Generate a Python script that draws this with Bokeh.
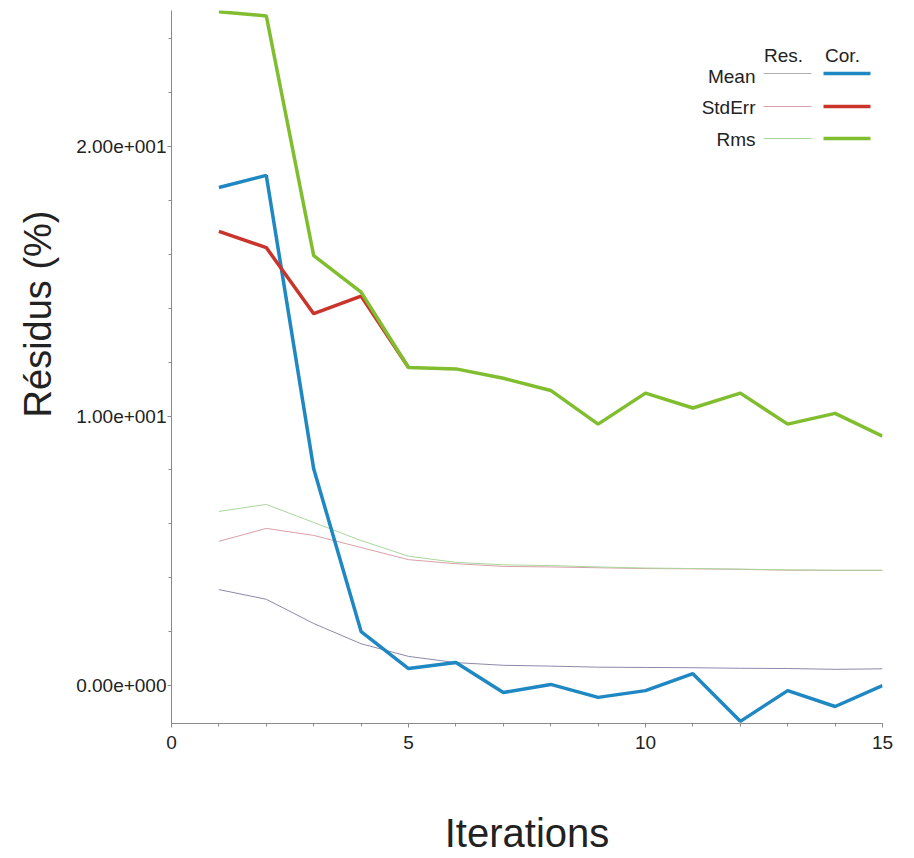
from bokeh.plotting import figure
from bokeh.models import Range1d, FixedTicker, Label, BoxAnnotation, Title
from bokeh.embed import file_html
from bokeh.resources import INLINE

# ---- data ----
iterations = list(range(1, 16))
mean_res = [3.56, 3.2, 2.3, 1.55, 1.08, 0.85, 0.75, 0.72, 0.68, 0.67, 0.66, 0.64, 0.63, 0.6, 0.62]
stderr_res = [5.35, 5.83, 5.57, 5.12, 4.67, 4.52, 4.42, 4.4, 4.37, 4.34, 4.33, 4.31, 4.28, 4.27, 4.27]
rms_res = [6.46, 6.72, 6.05, 5.38, 4.8, 4.57, 4.48, 4.45, 4.4, 4.36, 4.34, 4.32, 4.29, 4.28, 4.28]
mean_cor = [18.48, 18.93, 8.04, 2.0, 0.63, 0.85, -0.26, 0.04, -0.44, -0.19, 0.44, -1.33, -0.19, -0.78, 0.0]
stderr_cor_x = [1, 2, 3, 4, 5]
stderr_cor = [16.85, 16.25, 13.8, 14.45, 11.8]
rms_cor = [25.0, 24.85, 15.95, 14.6, 11.8, 11.75, 11.4, 10.95, 9.7, 10.85, 10.3, 10.85, 9.7, 10.1, 9.25]

x_major = [0, 5, 10, 15]
x_minor = list(range(0, 16))
y_major = [0, 10, 20]
y_minor = [2, 4, 6, 8, 12, 14, 16, 18, 22, 24]
y_labels = {0: "0.00e+000", 10: "1.00e+001", 20: "2.00e+001"}
legend_rows = ["Mean", "StdErr", "Rms"]
legend_cols = ["Res.", "Cor."]

# ---- styles ----
C_MEAN_RES = "#8c89a8"
C_STD_RES = "#d9a0a8"
C_RMS_RES = "#a9d79c"
C_MEAN_COR = "#1f88c3"
C_STD_COR = "#c9342b"
C_RMS_COR = "#80bd2f"
FONT = "Liberation Sans"

p = figure(width=914, height=858, output_backend="svg", toolbar_location=None,
           x_range=Range1d(0, 15), y_range=Range1d(-1.41, 25.05),
           min_border_left=171, min_border_right=32, min_border_top=10,
           min_border_bottom=135)
p.outline_line_color = None
p.xgrid.visible = False
p.ygrid.visible = False
p.background_fill_color = "white"
p.border_fill_color = "white"

# lines
p.line(iterations, mean_res, line_color=C_MEAN_RES, line_width=1)
p.line(iterations, stderr_res, line_color=C_STD_RES, line_width=1)
p.line(iterations, rms_res, line_color=C_RMS_RES, line_width=1)
p.line(iterations, mean_cor, line_color=C_MEAN_COR, line_width=3.5)
p.line(stderr_cor_x, stderr_cor, line_color=C_STD_COR, line_width=3.5)
p.line(iterations, rms_cor, line_color=C_RMS_COR, line_width=3.5)

# axes
for ax in (p.xaxis[0], p.yaxis[0]):
    ax.axis_line_color = "#8a8a8a"
    ax.major_tick_line_color = "#8a8a8a"
    ax.minor_tick_line_color = "#8a8a8a"
    ax.major_tick_in = 0
    ax.minor_tick_in = 0
    ax.major_tick_out = 4
    ax.minor_tick_out = 3
    ax.major_label_text_font = FONT
    ax.major_label_text_color = "#222222"

p.xaxis.ticker = FixedTicker(ticks=x_major, minor_ticks=x_minor)
p.xaxis.major_label_text_font_size = "19px"
p.xaxis.major_label_standoff = 8
p.xaxis.axis_label = "Iterations"
p.xaxis.axis_label_text_font = FONT
p.xaxis.axis_label_text_font_size = "40px"
p.xaxis.axis_label_text_font_style = "normal"
p.xaxis.axis_label_text_color = "#222222"
p.xaxis.axis_label_standoff = 59

p.yaxis.ticker = FixedTicker(ticks=y_major, minor_ticks=y_minor)
p.yaxis.major_label_overrides = y_labels
p.yaxis.major_label_text_font_size = "19px"
p.yaxis.major_label_standoff = 1

# y title: placed higher than centre, like the reference
p.add_layout(Title(text="Résidus (%)", align="right", offset=200, standoff=29,
                   text_font=FONT, text_font_size="38px", text_font_style="normal",
                   text_color="#222222"), "left")

# legend (custom two-column key)
col_x = [612, 671]
for cx, t in zip(col_x, legend_cols):
    p.add_layout(Label(x=cx, y=668, x_units="screen", y_units="screen", text=t,
                       text_font=FONT, text_font_size="19px", text_color="#222222",
                       text_align="center", text_baseline="alphabetic"))
row_base = [647, 616, 584]
row_mid = [650, 617, 585]
res_cols = [C_MEAN_RES, C_STD_RES, C_RMS_RES]
cor_cols = [C_MEAN_COR, C_STD_COR, C_RMS_COR]
for name, yb, ym, rc, cc in zip(legend_rows, row_base, row_mid, res_cols, cor_cols):
    p.add_layout(Label(x=584, y=yb, x_units="screen", y_units="screen", text=name,
                       text_font=FONT, text_font_size="19px", text_color="#222222",
                       text_align="right", text_baseline="alphabetic"))
    p.add_layout(BoxAnnotation(left=592, right=640, bottom=ym - 0.5, top=ym + 0.5,
                               left_units="screen", right_units="screen",
                               bottom_units="screen", top_units="screen",
                               fill_color="#b0b0b0" if name == "Mean" else rc,
                               fill_alpha=1, line_color=None))
    p.add_layout(BoxAnnotation(left=652, right=699, bottom=ym - 1.75, top=ym + 1.75,
                               left_units="screen", right_units="screen",
                               bottom_units="screen", top_units="screen",
                               fill_color=cc, fill_alpha=1, line_color=None))

open("out.html", "w").write(file_html(p, INLINE))
